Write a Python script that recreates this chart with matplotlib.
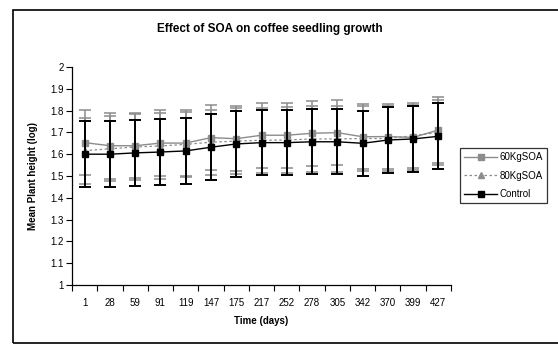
import matplotlib
matplotlib.use("Agg")
import matplotlib.pyplot as plt
from matplotlib.patches import Rectangle
from matplotlib.lines import Line2D
import numpy as np

plt.rcParams['font.family'] = ['Liberation Sans', 'DejaVu Sans']

# sampling days and mean heights (log) per treatment
days = ['1', '28', '59', '91', '119', '147', '175', '217', '252', '278',
        '305', '342', '370', '399', '427']
soa60 = [1.653, 1.639, 1.639, 1.651, 1.651, 1.676, 1.671, 1.687, 1.687,
         1.696, 1.699, 1.680, 1.681, 1.677, 1.711]
soa80 = [1.616, 1.625, 1.633, 1.638, 1.645, 1.655, 1.660, 1.664, 1.665,
         1.670, 1.670, 1.672, 1.672, 1.685, 1.700]
control = [1.600, 1.600, 1.606, 1.610, 1.615, 1.632, 1.647, 1.653, 1.653,
           1.657, 1.657, 1.650, 1.665, 1.670, 1.682]

# error bar half-widths
err60 = [0.150, 0.152, 0.150, 0.152, 0.152, 0.150, 0.150, 0.150, 0.150,
         0.150, 0.150, 0.150, 0.150, 0.150, 0.152]
err80 = [0.152, 0.150, 0.150, 0.150, 0.150, 0.150, 0.150, 0.150, 0.150,
         0.150, 0.150, 0.150, 0.150, 0.150, 0.150]
errc = [0.152, 0.152, 0.152, 0.152, 0.152, 0.152, 0.150, 0.150, 0.150,
        0.150, 0.150, 0.150, 0.150, 0.150, 0.152]

W, H = 558, 349
fig = plt.figure(figsize=(W / 100, H / 100), dpi=100)
ax = fig.add_axes([72 / W, 1 - 285 / H, (451 - 72) / W, (285 - 67) / H])

x = np.arange(len(days))
gray = '#8c8c8c'

ax.errorbar(x, soa60, yerr=err60, color=gray, marker='s', markersize=4,
            linewidth=1.0, elinewidth=1.1, capsize=4, capthick=1.1,
            zorder=3)
ax.errorbar(x, soa80, yerr=err80, color=gray, marker='^', markersize=4,
            linestyle=(0, (2, 2)), linewidth=0.9, elinewidth=1.1, capsize=4,
            capthick=1.1, zorder=4)
ax.errorbar(x, control, yerr=errc, color='black', marker='s', markersize=4,
            linewidth=1.0, elinewidth=1.4, capsize=4, capthick=1.4,
            zorder=5)

ax.set_xlim(-0.5, len(days) - 0.5)
ax.set_ylim(1, 2)
ax.set_yticks(np.arange(1, 2.01, 0.1))
ax.set_yticklabels(['1', '1.1', '1.2', '1.3', '1.4', '1.5', '1.6', '1.7',
                    '1.8', '1.9', '2'])
# ticks between categories, labels centred on them
ax.set_xticks(np.arange(-0.5, len(days), 1.0))
ax.set_xticklabels([])
ax.set_xticks(x, minor=True)
ax.set_xticklabels(days, minor=True)
ax.tick_params(axis='x', which='major', length=4, width=0.8, direction='out')
ax.tick_params(axis='x', which='minor', length=0, labelsize=7, pad=9)
ax.tick_params(axis='y', length=4, width=0.8, direction='out', labelsize=7,
               pad=2)

for s in ['top', 'right']:
    ax.spines[s].set_visible(False)
for s in ['left', 'bottom']:
    ax.spines[s].set_linewidth(0.9)

ax.set_xlabel('Time (days)', fontsize=7, fontweight='bold', labelpad=6)
ax.set_ylabel('Mean Plant height (log)', fontsize=7, fontweight='bold',
              labelpad=9)
fig.text(270 / W, 1 - 29 / H, 'Effect of SOA on coffee seedling growth',
         ha='center', va='center', fontsize=8.5, fontweight='bold')

# legend shows plain line + marker samples
handles = [
    Line2D([], [], color=gray, marker='s', markersize=4, linewidth=1.0),
    Line2D([], [], color=gray, marker='^', markersize=4, linewidth=0.9,
           linestyle=(0, (2, 2))),
    Line2D([], [], color='black', marker='s', markersize=4, linewidth=1.0),
]
labels = ['60KgSOA', '80KgSOA', 'Control']
leg = fig.legend(handles, labels, loc='upper left',
                 bbox_to_anchor=(460 / W, 1 - 148 / H), fontsize=7,
                 frameon=True, fancybox=False, edgecolor='black',
                 handlelength=3.4, handletextpad=0.2, borderpad=0.45,
                 labelspacing=0.85, borderaxespad=0)
leg.get_frame().set_linewidth(0.9)

# outer chart-area border
fig.patches.append(Rectangle((13 / W, 1 - 343 / H), (W + 5 - 13) / W,
                             (343 - 10) / H, transform=fig.transFigure,
                             fill=False, edgecolor='black', linewidth=1.2))

fig.savefig('out.png', dpi=100)
